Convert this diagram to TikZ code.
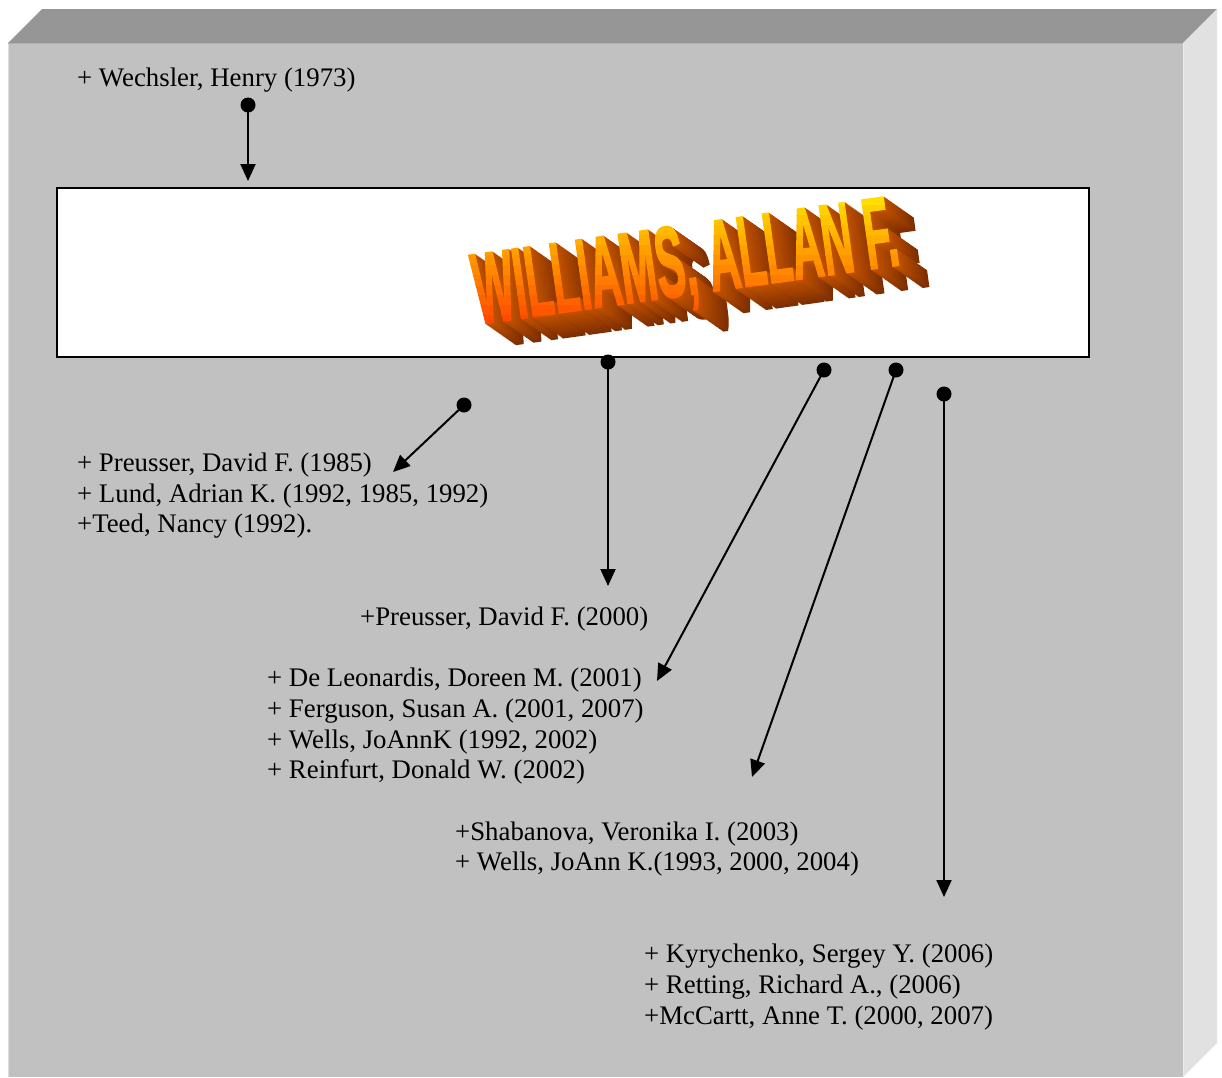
\documentclass[tikz,border=0pt]{standalone}
\usepackage{graphicx}
\usepackage{fontspec}
\setmainfont{Liberation Serif}
\newfontfamily\titlefont{Liberation Sans}[FakeBold=2.5]
\usetikzlibrary{arrows.meta}

\definecolor{panelfront}{RGB}{193,193,193}
\definecolor{paneltop}{RGB}{150,150,150}
\definecolor{panelside}{RGB}{225,225,225}
\definecolor{panelhi}{RGB}{222,222,222}
\definecolor{wordtop}{RGB}{255,234,0}
\definecolor{wordbot}{RGB}{255,50,0}
\definecolor{extnear}{RGB}{190,80,0}
\definecolor{extfar}{RGB}{125,46,0}

% condensed heavy lettering for the name
\newcommand\nametext{\scalebox{0.43}[1]{WILLIAMS, ALLAN F.}}

\begin{document}
\begin{tikzpicture}[x=1pt,y=-1pt,
  entry/.style={anchor=base west, inner sep=0pt, font=\fontsize{26.8}{30.7}\selectfont},
  dot/.style={circle, fill=black, inner sep=0pt, minimum size=15pt},
  conn/.style={line width=2pt, -{Triangle[length=17pt,width=15pt]}},
  wordart/.style={anchor=base west, inner sep=0pt, rotate=8,
    font=\titlefont\bfseries\fontsize{100}{100}\selectfont}
]
\useasboundingbox (0,0) rectangle (1222,1077);

% bevelled grey panel
\fill[paneltop] (8,43) -- (42,9) -- (1217,9) -- (1183,43) -- cycle;
\fill[panelside] (1183,43) -- (1217,9) -- (1217,1043) -- (1183,1077) -- cycle;
\fill[panelfront] (8,43) rectangle (1183,1077);
\draw[panelhi, line width=1pt] (8.5,1077) -- (8.5,43.5);
\draw[white!92!black, line width=1pt] (1183.5,43) -- (1183.5,1077);
\draw[black!30, line width=1pt] (8,43.5) -- (1183,43.5);

% name banner
\node[draw=black, line width=1.5pt, fill=white, minimum width=1032pt,
      minimum height=169pt, anchor=north west, inner sep=0pt] (namebox) at (56,187) {};

% extruded depth of the lettering, back to front
\foreach \k in {30,29,...,1} {
  \pgfmathsetmacro\mixv{100*(\k-1)/29}
  \node[wordart, text=extfar!\mixv!extnear] (depth\k) at ({478+1.0*\k},{324+0.7*\k}) {\nametext};
}
% front face of the lettering with a yellow-to-red gradient
\foreach \s in {0,...,15} {
  \pgfmathsetmacro\ya{185+10*\s}
  \pgfmathsetmacro\mixv{100*\s/15}
  \begin{scope}
    \clip (400,\ya) rectangle (1000,\ya+10.5);
    \node[wordart, text=wordbot!\mixv!wordtop] (face\s) at (478,324) {\nametext};
  \end{scope}
}

% co-author entries
\node[entry] (wechsler) at (77,86) {+ Wechsler, Henry (1973)};
\node[entry] (pa) at (77,471) {+ Preusser, David F. (1985)};
\node[entry] (pb) at (77,502) {+ Lund, Adrian K. (1992, 1985, 1992)};
\node[entry] (pc) at (77,532) {+Teed, Nancy (1992).};
\node[entry] (qa) at (360,625) {+Preusser, David F. (2000)};
\node[entry] (ra) at (267,686) {+ De Leonardis, Doreen M. (2001)};
\node[entry] (rb) at (267,717) {+ Ferguson, Susan A. (2001, 2007)};
\node[entry] (rc) at (267,748) {+ Wells, JoAnnK (1992, 2002)};
\node[entry] (rd) at (267,778) {+ Reinfurt, Donald W. (2002)};
\node[entry] (sa) at (455,840) {+Shabanova, Veronika I. (2003)};
\node[entry] (sb) at (455,870) {+ Wells, JoAnn K.(1993, 2000, 2004)};
\node[entry] (ta) at (644,962) {+ Kyrychenko, Sergey Y. (2006)};
\node[entry] (tb) at (644,993) {+ Retting, Richard A., (2006)};
\node[entry] (tc) at (644,1024) {+McCartt, Anne T. (2000, 2007)};

% connectors: dot at the start, arrowhead at the free end
\node[dot] (d1) at (248,105) {};
\node[dot] (d2) at (464,405) {};
\node[dot] (d3) at (608,362) {};
\node[dot] (d4) at (824,370) {};
\node[dot] (d5) at (896,370) {};
\node[dot] (d6) at (944,394) {};
\coordinate (e1) at (248,181);
\coordinate (e2) at (393,472);
\coordinate (e3) at (608,586);
\coordinate (e4) at (657,681);
\coordinate (e5) at (752,777);
\coordinate (e6) at (944,897);
\draw[conn] (d1.center) -- (e1);
\draw[conn] (d2.center) -- (e2);
\draw[conn] (d3.center) -- (e3);
\draw[conn] (d4.center) -- (e4);
\draw[conn] (d5.center) -- (e5);
\draw[conn] (d6.center) -- (e6);
\end{tikzpicture}
\end{document}
